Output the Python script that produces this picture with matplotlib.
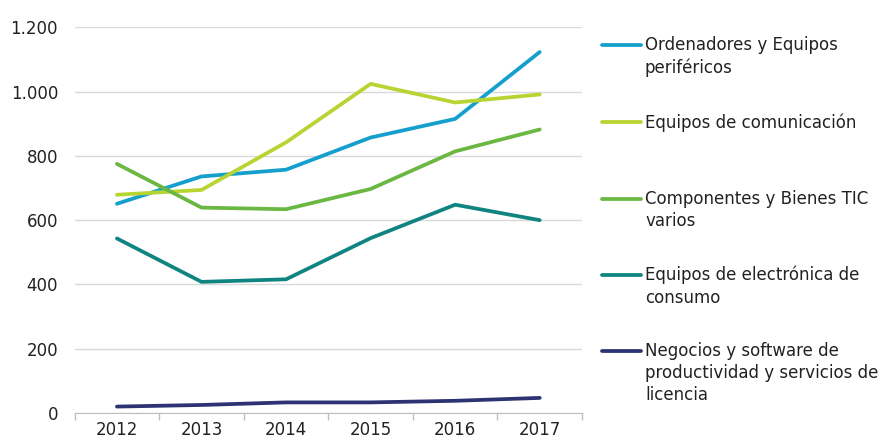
import matplotlib
matplotlib.use('Agg')
import matplotlib.pyplot as plt
import numpy as np
from matplotlib.lines import Line2D
from matplotlib.ticker import FuncFormatter

plt.rcParams['font.family'] = ['DejaVu Sans']
plt.rcParams['font.size'] = 12

# datos
years = ['2012', '2013', '2014', '2015', '2016', '2017']
ordenadores = [651, 736, 757, 857, 915, 1123]
comunicacion = [679, 694, 842, 1024, 966, 991]
componentes = [775, 639, 634, 697, 814, 882]
electronica = [543, 408, 416, 544, 648, 600]
negocios = [20, 25, 33, 33, 38, 47]

labels = ['Ordenadores y Equipos\nperiféricos',
          'Equipos de comunicación',
          'Componentes y Bienes TIC\nvarios',
          'Equipos de electrónica de\nconsumo',
          'Negocios y software de\nproductividad y servicios de\nlicencia']
colors = ['#149FCD', '#B8D432', '#6AB842', '#0F8481', '#2D3272']
series = [ordenadores, comunicacion, componentes, electronica, negocios]

fig = plt.figure(figsize=(8.83, 4.43), dpi=100)
ax = fig.add_axes([0.0846, 0.0677, 0.5745, 0.8707])

x = np.arange(len(years))
for vals, c in zip(series, colors):
    ax.plot(x, vals, color=c, linewidth=2.7, solid_capstyle='round')

ax.set_xlim(-0.5, len(years) - 0.5)
ax.set_ylim(0, 1200)
ax.set_yticks(np.arange(0, 1201, 200))
ax.yaxis.set_major_formatter(FuncFormatter(lambda v, p: f'{int(v):,}'.replace(',', '.')))
ax.grid(axis='y', color='#D9D9D9', linewidth=1)
ax.set_axisbelow(True)
ax.tick_params(axis='y', length=0, pad=12, labelcolor='#222222')

ax.set_xticks(x)
ax.set_xticklabels(years)
ax.set_xticks(np.arange(-0.5, len(years)), minor=True)
ax.tick_params(axis='x', which='major', length=0, pad=6, labelcolor='#222222')
ax.tick_params(axis='x', which='minor', length=5, color='#BFBFBF', width=1)

for s in ['left', 'right', 'top']:
    ax.spines[s].set_visible(False)
ax.spines['bottom'].set_color('#BFBFBF')

# leyenda manual
W, H = 883, 443
legend_y = [45, 122, 199, 275, 351]
for lab, c, yp in zip(labels, colors, legend_y):
    yf = 1 - yp / H
    fig.add_artist(Line2D([602 / W, 641 / W], [yf, yf], color=c, linewidth=2.7,
                          solid_capstyle='round', transform=fig.transFigure))
    fig.text(645 / W, 1 - (yp - 9) / H, lab, ha='left', va='top',
             color='#222222', linespacing=1.3)

fig.savefig('out.png', dpi=100)
